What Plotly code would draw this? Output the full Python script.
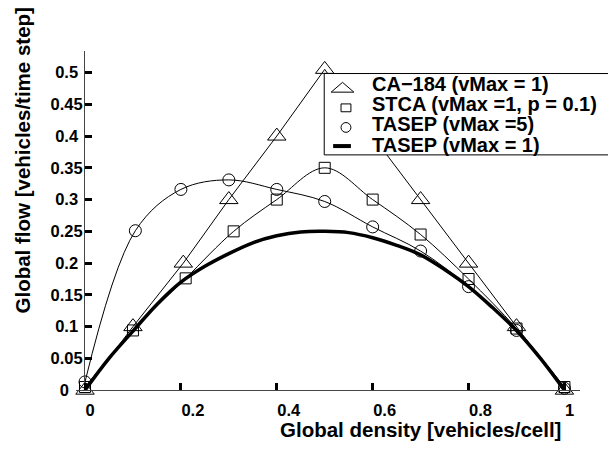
import plotly.graph_objects as go

W, H = 608, 457

# ---------------- data ----------------
ca184_density = [0.0, 0.1, 0.205, 0.3, 0.4, 0.5, 0.6, 0.7, 0.8, 0.9, 1.0]
ca184_flow = [0.0, 0.1, 0.2, 0.3, 0.4, 0.505, 0.4, 0.3, 0.2, 0.1, 0.0]

stca_density = [0.0, 0.1, 0.21, 0.31, 0.4, 0.5, 0.6, 0.7, 0.8, 0.9, 1.0]
stca_flow = [0.005, 0.094, 0.176, 0.25, 0.30, 0.35, 0.30, 0.245, 0.175, 0.097, 0.005]

tasep5_density = [0.0, 0.105, 0.2, 0.3, 0.4, 0.5, 0.6, 0.7, 0.8, 0.9, 1.0]
tasep5_flow = [0.013, 0.251, 0.316, 0.331, 0.316, 0.297, 0.257, 0.219, 0.163, 0.094, 0.003]

tasep1_density = [0.0, 0.05, 0.1, 0.15, 0.2, 0.25, 0.3, 0.35, 0.4, 0.45, 0.5,
                  0.55, 0.6, 0.65, 0.7, 0.75, 0.8, 0.85, 0.9, 0.95, 1.0]
tasep1_flow = [0.0, 0.05, 0.093, 0.135, 0.170, 0.195, 0.215, 0.232, 0.243, 0.249, 0.25,
               0.248, 0.24, 0.228, 0.213, 0.19, 0.163, 0.13, 0.094, 0.05, 0.0]

x_ticks = [0.0, 0.2, 0.4, 0.6, 0.8, 1.0]
x_tick_labels = ["0\u2007\u2008", "0.2", "0.4", "0.6", "0.8", "1\u2007\u2008"]
y_ticks = [0.0, 0.05, 0.1, 0.15, 0.2, 0.25, 0.3, 0.35, 0.4, 0.45, 0.5]
y_tick_labels = ["0\u2007\u2008", "0.05", "0.1\u2008", "0.15", "0.2\u2008", "0.25",
                 "0.3\u2008", "0.35", "0.4\u2008", "0.45", "0.5\u2008"]

legend_labels = ["CA\u2212184 (vMax = 1)", "STCA (vMax =1, p = 0.1)",
                 "TASEP (vMax =5)", "TASEP (vMax = 1)"]

x_title = "Global density [vehicles/cell]"
y_title = "Global flow [vehicles/time step]"

# ---------------- geometry helpers (pixels -> paper) ----------------
def px(x):
    return x / W

def py(y):
    return 1 - y / H

X0, X1 = 86.0, 571.0   # pixel positions of density 0 and 1
Y0, Y5 = 398.0, 74.0   # pixel positions of flow 0 and 0.5
xdom = (77.0, 587.0)
ydom_top = 52.0
kx = (X1 - X0)
ky = (Y0 - Y5) / 0.5
xrange = [-(X0 - xdom[0]) / kx, 1 + (xdom[1] - X1) / kx]
yrange = [0, (Y0 - ydom_top) / ky]

FONT = "Liberation Sans, Arial, sans-serif"
BLACK = "black"

fig = go.Figure()

fig.add_trace(go.Scatter(x=ca184_density, y=ca184_flow, mode="lines+markers",
                         line=dict(color=BLACK, width=1),
                         marker=dict(symbol="triangle-up-open", size=16,
                                     color=BLACK, line=dict(width=1)),
                         cliponaxis=False, showlegend=False))
fig.add_trace(go.Scatter(x=stca_density, y=stca_flow, mode="lines+markers",
                         line=dict(color=BLACK, width=1, shape="spline"),
                         marker=dict(symbol="square-open", size=11,
                                     color=BLACK, line=dict(width=1)),
                         cliponaxis=False, showlegend=False))
fig.add_trace(go.Scatter(x=tasep5_density, y=tasep5_flow, mode="lines+markers",
                         line=dict(color=BLACK, width=1, shape="spline"),
                         marker=dict(symbol="circle-open", size=12,
                                     color=BLACK, line=dict(width=1)),
                         cliponaxis=False, showlegend=False))
fig.add_trace(go.Scatter(x=tasep1_density, y=tasep1_flow, mode="lines",
                         line=dict(color=BLACK, width=3.5, shape="spline"),
                         cliponaxis=False, showlegend=False))

# ---------------- manual legend (box above the curves) ----------------
shapes = []
shapes.append(dict(type="rect", xref="paper", yref="paper", layer="above",
                   x0=px(328), x1=px(640), y0=py(158), y1=py(75),
                   fillcolor="white", line=dict(color=BLACK, width=1)))
tri = "M {a},{b} L {c},{b} L {d},{e} Z".format(a=px(335), b=py(94), c=px(358),
                                              d=px(346.5), e=py(84))
shapes.append(dict(type="path", xref="paper", yref="paper", layer="above",
                   path=tri, line=dict(color=BLACK, width=1)))
shapes.append(dict(type="rect", xref="paper", yref="paper", layer="above",
                   x0=px(345), x1=px(355), y0=py(114), y1=py(106),
                   line=dict(color=BLACK, width=1)))
shapes.append(dict(type="circle", xref="paper", yref="paper", layer="above",
                   x0=px(345), x1=px(355), y0=py(135), y1=py(125),
                   line=dict(color=BLACK, width=1)))
shapes.append(dict(type="line", xref="paper", yref="paper", layer="above",
                   x0=px(337), x1=px(355), y0=py(149), y1=py(149),
                   line=dict(color=BLACK, width=4)))

annotations = []
for i, lab in enumerate(legend_labels):
    annotations.append(dict(text=lab, xref="paper", yref="paper",
                            x=px(374), y=py(86 + 20.5 * i),
                            xanchor="left", yanchor="middle", showarrow=False,
                            font=dict(family=FONT, size=20, color=BLACK, weight="bold")))

annotations.append(dict(text=x_title, xref="paper", yref="paper",
                        x=px(425), y=py(438), xanchor="center", yanchor="middle",
                        showarrow=False,
                        font=dict(family=FONT, size=20.5, color=BLACK, weight="bold")))
annotations.append(dict(text=y_title, xref="paper", yref="paper",
                        x=px(23), y=py(164), xanchor="center", yanchor="middle",
                        textangle=-90, showarrow=False,
                        font=dict(family=FONT, size=20.5, color=BLACK, weight="bold")))

fig.update_layout(
    width=W, height=H,
    margin=dict(l=0, r=0, t=0, b=0),
    paper_bgcolor="white", plot_bgcolor="white",
    showlegend=False,
    shapes=shapes, annotations=annotations,
    xaxis=dict(domain=[px(xdom[0]), px(xdom[1])], range=xrange,
               showgrid=False, zeroline=False,
               showline=True, linecolor="#444", linewidth=1,
               ticks="inside", ticklen=7, tickwidth=3, tickcolor=BLACK,
               tickvals=x_ticks, ticktext=x_tick_labels,
               ticklabelshift=12, ticklabelstandoff=5,
               tickfont=dict(family=FONT, size=16.5, color=BLACK, weight="bold")),
    yaxis=dict(domain=[py(Y0), py(ydom_top)], range=yrange,
               anchor="free", position=px(85),
               showgrid=False, zeroline=False,
               showline=True, linecolor="#444", linewidth=1,
               ticks="inside", ticklen=7, tickwidth=3, tickcolor=BLACK,
               tickvals=y_ticks, ticktext=y_tick_labels,
               ticklabelstandoff=-2,
               tickfont=dict(family=FONT, size=16.5, color=BLACK, weight="bold")),
)

fig.write_html("out.html", config={"displayModeBar": False},
               post_script="document.body.style.margin='0';document.body.style.overflow='hidden';")
